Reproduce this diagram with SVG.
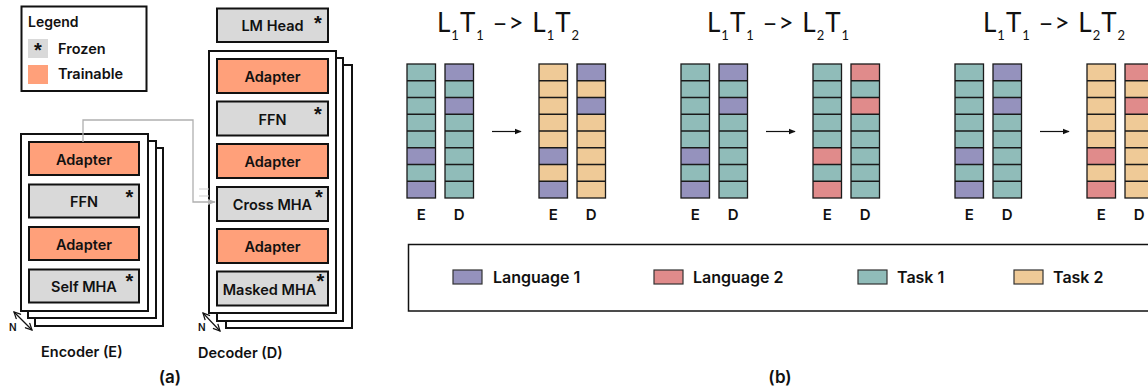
<svg xmlns="http://www.w3.org/2000/svg" xmlns:xlink="http://www.w3.org/1999/xlink" width="1148" height="390" viewBox="0 0 1148 390">
  <style>
    .lbl { font-family: Inter, "Noto Sans", "Liberation Sans", sans-serif; font-weight: 600; fill: #111; }
    .node { font-size: 14.5px; text-anchor: middle; dominant-baseline: central; }
    .star { font-family: "Liberation Sans", sans-serif; font-weight: 700; font-size: 20px; fill: #111; text-anchor: middle; }
    .title { font-family: Lato, "Open Sans", "Liberation Sans", sans-serif; font-weight: 400; font-size: 26px; letter-spacing: 1px; fill: #111; }
    .sub { font-size: 13px; }
    .frozen { fill: #d9d9d9; stroke: #111; stroke-width: 2; }
    .train { fill: #ffa07a; stroke: #111; stroke-width: 2; }
    .stack { fill: #fff; stroke: #111; stroke-width: 2; }
    .t1 { fill: #90bcb9; }
    .t2 { fill: #efca97; }
    .l1 { fill: #9592bd; }
    .l2 { fill: #e08b8b; }
    .grid { fill: none; stroke: #1a1a1a; stroke-width: 1.3; }
    .sw { stroke: #333; stroke-width: 1.2; }
    .conn { fill: none; stroke: #b0b0b0; stroke-width: 1.3; }
  </style>
  <defs>
    <marker id="ah" viewBox="0 0 10 10" refX="9" refY="5" markerWidth="6" markerHeight="6" orient="auto">
      <path d="M0,1 L10,5 L0,9 z" fill="#111"/>
    </marker>
    <marker id="ahg" viewBox="0 0 10 10" refX="9" refY="5" markerWidth="6" markerHeight="6" orient="auto">
      <path d="M0,1 L10,5 L0,9 z" fill="#b0b0b0"/>
    </marker>
    <marker id="ahs" viewBox="0 0 10 10" refX="9" refY="5" markerWidth="7" markerHeight="7" orient="auto-start-reverse">
      <path d="M1,1 L9,5 L1,9" fill="none" stroke="#111" stroke-width="1.5"/>
    </marker>
    <!-- outline and cell separators of one 8-cell column -->
    <g id="colgrid">
      <rect class="grid" x="0" y="0" width="28.5" height="134"/>
      <path class="grid" d="M0,16.75H28.5M0,33.5H28.5M0,50.25H28.5M0,67H28.5M0,83.75H28.5M0,100.5H28.5M0,117.25H28.5"/>
    </g>
    <!-- encoder column: language cells at rows 5 and 7 -->
    <g id="encL1"><rect class="l1" x="0" y="83.75" width="28.5" height="16.75"/><rect class="l1" x="0" y="117.25" width="28.5" height="16.75"/></g>
    <g id="encL2"><rect class="l2" x="0" y="83.75" width="28.5" height="16.75"/><rect class="l2" x="0" y="117.25" width="28.5" height="16.75"/></g>
    <!-- decoder column: language cells at rows 0 and 2 -->
    <g id="decL1"><rect class="l1" x="0" y="0" width="28.5" height="16.75"/><rect class="l1" x="0" y="33.5" width="28.5" height="16.75"/></g>
    <g id="decL2"><rect class="l2" x="0" y="0" width="28.5" height="16.75"/><rect class="l2" x="0" y="33.5" width="28.5" height="16.75"/></g>
    <!-- starting columns (language 1, task 1) with E/D captions and arrow -->
    <g id="before">
      <g transform="translate(0,64)">
        <rect class="t1" width="28.5" height="134"/><use href="#encL1"/><use href="#colgrid"/>
      </g>
      <g transform="translate(38,64)">
        <rect class="t1" width="28.5" height="134"/><use href="#decL1"/><use href="#colgrid"/>
      </g>
      <text class="lbl" x="14.25" y="220" font-size="15" text-anchor="middle" font-weight="700">E</text>
      <text class="lbl" x="52.25" y="220" font-size="15" text-anchor="middle" font-weight="700">D</text>
      <line x1="85" y1="131.5" x2="114" y2="131.5" stroke="#111" stroke-width="1.2" marker-end="url(#ah)"/>
      <text class="lbl" x="146.25" y="220" font-size="15" text-anchor="middle" font-weight="700">E</text>
      <text class="lbl" x="184.25" y="220" font-size="15" text-anchor="middle" font-weight="700">D</text>
    </g>
  </defs>

  <!-- ===== (a) legend ===== -->
  <g id="legend-a">
    <rect x="21.5" y="6.5" width="125" height="84.5" fill="#fff" stroke="#111" stroke-width="2"/>
    <text class="lbl" x="28" y="27" font-size="14">Legend</text>
    <rect x="28" y="39" width="20" height="19" fill="#d9d9d9"/>
    <text class="star" x="38" y="57">*</text>
    <text class="lbl" x="58" y="54" font-size="14.5">Frozen</text>
    <rect x="28" y="65" width="20" height="19" fill="#ffa07a"/>
    <text class="lbl" x="58" y="79" font-size="14.5">Trainable</text>
  </g>

  <!-- ===== encoder stack ===== -->
  <g id="encoder">
    <rect class="stack" x="35" y="148" width="128" height="178"/>
    <rect class="stack" x="28" y="141" width="128" height="177"/>
    <rect class="stack" x="21" y="134" width="127" height="177"/>
    <g id="enc-adapter-2"><rect class="train" x="29" y="142" width="110" height="33"/><text class="lbl node" x="84" y="159">Adapter</text></g>
    <g id="enc-ffn"><rect class="frozen" x="29" y="184.5" width="110" height="33"/><text class="lbl node" x="84" y="201.5">FFN</text><text class="star" x="129.5" y="204">*</text></g>
    <g id="enc-adapter-1"><rect class="train" x="29" y="227" width="110" height="33"/><text class="lbl node" x="84" y="244">Adapter</text></g>
    <g id="enc-self-mha"><rect class="frozen" x="29" y="269.5" width="110" height="33"/><text class="lbl node" x="84" y="286.5">Self MHA</text><text class="star" x="129.5" y="288">*</text></g>
    <line x1="14" y1="312" x2="32" y2="330" stroke="#111" stroke-width="1.2" marker-start="url(#ahs)" marker-end="url(#ahs)"/>
    <text class="lbl" x="9" y="331" font-size="10">N</text>
    <text class="lbl" x="41" y="357" font-size="14.5">Encoder (E)</text>
  </g>

  <!-- ===== decoder stack ===== -->
  <g id="decoder">
    <g id="lm-head"><rect class="frozen" x="217" y="8.5" width="111" height="33.5"/><text class="lbl node" x="272.5" y="25.5">LM Head</text><text class="star" x="318" y="30">*</text></g>
    <rect class="stack" x="226" y="65" width="126" height="263"/>
    <rect class="stack" x="217" y="58" width="126" height="263"/>
    <rect class="stack" x="209" y="51" width="127" height="262"/>
    <g id="dec-adapter-3"><rect class="train" x="217" y="59" width="111" height="34"/><text class="lbl node" x="272.5" y="76.5">Adapter</text></g>
    <g id="dec-ffn"><rect class="frozen" x="217" y="101.5" width="111" height="34"/><text class="lbl node" x="272.5" y="119">FFN</text><text class="star" x="318" y="121">*</text></g>
    <g id="dec-adapter-2"><rect class="train" x="217" y="144" width="111" height="34"/><text class="lbl node" x="272.5" y="161.5">Adapter</text></g>
    <g id="dec-cross-mha"><rect class="frozen" x="217" y="187" width="111" height="34"/><text class="lbl node" x="272.5" y="204.5">Cross MHA</text><text class="star" x="319" y="204">*</text></g>
    <g id="dec-adapter-1"><rect class="train" x="217" y="229" width="111" height="34"/><text class="lbl node" x="272.5" y="246.5">Adapter</text></g>
    <g id="dec-masked-mha"><rect class="frozen" x="217" y="271.5" width="111" height="34"/><text class="lbl node" x="269.5" y="289" font-size="14">Masked MHA</text><text class="star" x="320.5" y="288">*</text></g>
    <line x1="203" y1="313" x2="220" y2="331" stroke="#111" stroke-width="1.2" marker-start="url(#ahs)" marker-end="url(#ahs)"/>
    <text class="lbl" x="198" y="331" font-size="10">N</text>
    <text class="lbl" x="198" y="358" font-size="14.5">Decoder (D)</text>
  </g>

  <!-- ===== encoder output to cross attention ===== -->
  <g id="connectors">
    <path class="conn" d="M83,142 V120 H193 V202 H215" marker-end="url(#ahg)"/>
    <path d="M199,189 H209 M199,196 H209" stroke="#d0d0d0" stroke-width="1.2"/>
  </g>

  <text class="lbl" x="170" y="383" font-size="17" text-anchor="middle">(a)</text>

  <!-- ===== (b) L1T1 -> L1T2 ===== -->
  <g id="case-l1t2">
    <text class="title" x="437" y="32">L<tspan class="sub" dy="8">1</tspan><tspan dy="-8">T</tspan><tspan class="sub" dy="8">1</tspan><tspan dy="-8"> –&gt; L</tspan><tspan class="sub" dy="8">1</tspan><tspan dy="-8">T</tspan><tspan class="sub" dy="8">2</tspan></text>
    <g transform="translate(407,0)">
      <use href="#before"/>
      <g transform="translate(132,64)"><rect class="t2" width="28.5" height="134"/><use href="#encL1"/><use href="#colgrid"/></g>
      <g transform="translate(170,64)"><rect class="t2" width="28.5" height="134"/><use href="#decL1"/><use href="#colgrid"/></g>
    </g>
  </g>

  <!-- ===== (b) L1T1 -> L2T1 ===== -->
  <g id="case-l2t1">
    <text class="title" x="707" y="32">L<tspan class="sub" dy="8">1</tspan><tspan dy="-8">T</tspan><tspan class="sub" dy="8">1</tspan><tspan dy="-8"> –&gt; L</tspan><tspan class="sub" dy="8">2</tspan><tspan dy="-8">T</tspan><tspan class="sub" dy="8">1</tspan></text>
    <g transform="translate(681,0)">
      <use href="#before"/>
      <g transform="translate(132,64)"><rect class="t1" width="28.5" height="134"/><use href="#encL2"/><use href="#colgrid"/></g>
      <g transform="translate(170,64)"><rect class="t1" width="28.5" height="134"/><use href="#decL2"/><use href="#colgrid"/></g>
    </g>
  </g>

  <!-- ===== (b) L1T1 -> L2T2 ===== -->
  <g id="case-l2t2">
    <text class="title" x="983" y="32">L<tspan class="sub" dy="8">1</tspan><tspan dy="-8">T</tspan><tspan class="sub" dy="8">1</tspan><tspan dy="-8"> –&gt; L</tspan><tspan class="sub" dy="8">2</tspan><tspan dy="-8">T</tspan><tspan class="sub" dy="8">2</tspan></text>
    <g transform="translate(955,0)">
      <use href="#before"/>
      <g transform="translate(132,64)"><rect class="t2" width="28.5" height="134"/><use href="#encL2"/><use href="#colgrid"/></g>
      <g transform="translate(170,64)"><rect class="t2" width="28.5" height="134"/><use href="#decL2"/><use href="#colgrid"/></g>
    </g>
  </g>

  <!-- ===== (b) colour key ===== -->
  <g id="legend-b">
    <rect x="408.5" y="244.5" width="760" height="66.5" fill="none" stroke="#111" stroke-width="1.5"/>
    <rect class="sw l1" x="453" y="270" width="29" height="14"/>
    <text class="lbl" x="493" y="282.5" font-size="16">Language 1</text>
    <rect class="sw l2" x="654" y="270" width="29" height="14"/>
    <text class="lbl" x="693" y="282.5" font-size="16">Language 2</text>
    <rect class="sw t1" x="858" y="270" width="29" height="14"/>
    <text class="lbl" x="897" y="282.5" font-size="16">Task 1</text>
    <rect class="sw t2" x="1014" y="270" width="29" height="14"/>
    <text class="lbl" x="1053" y="282.5" font-size="16">Task 2</text>
  </g>

  <text class="lbl" x="780" y="383" font-size="17" text-anchor="middle">(b)</text>
</svg>
